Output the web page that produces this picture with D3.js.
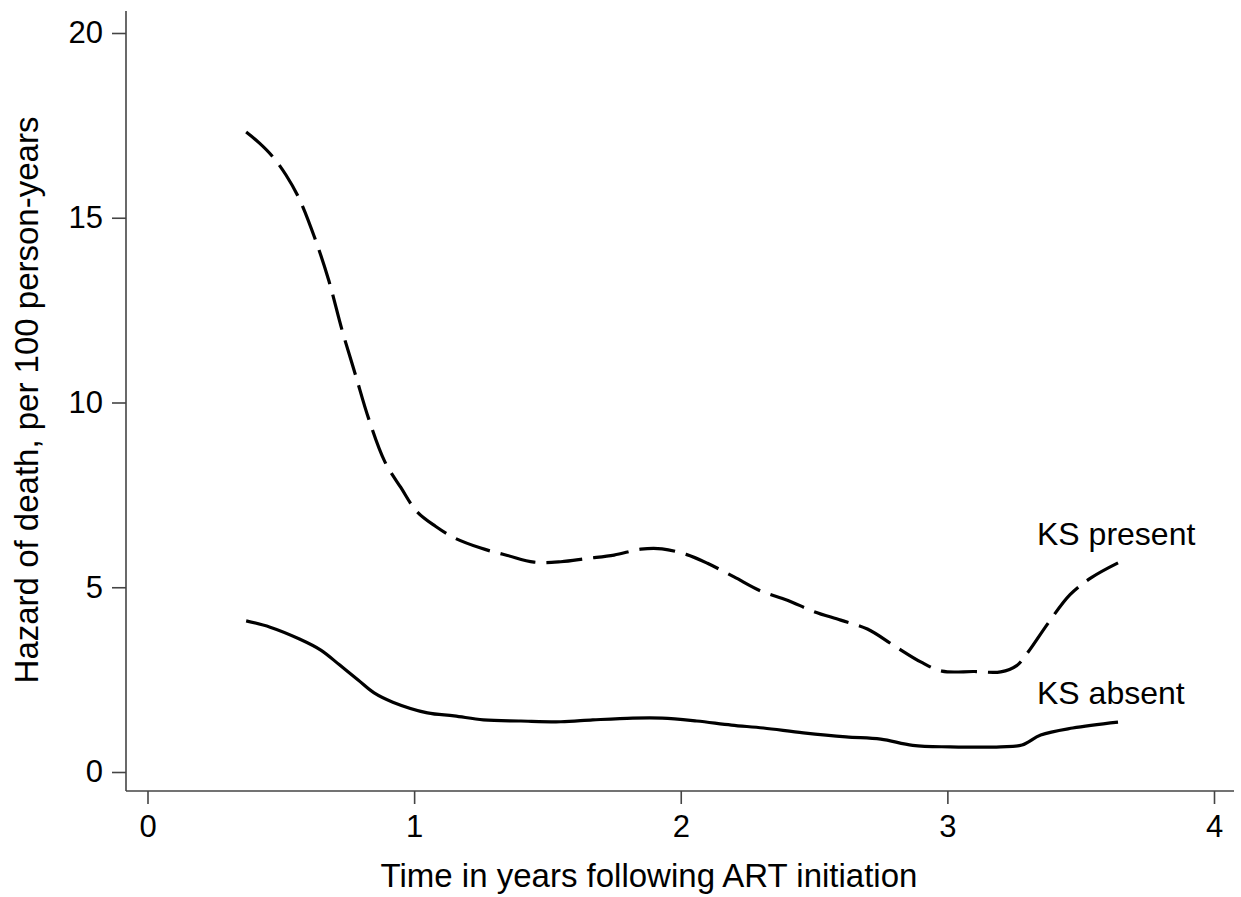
<!DOCTYPE html>
<html>
<head>
<meta charset="utf-8">
<script src="https://cdn.jsdelivr.net/npm/d3@7"></script>
<style>
  html, body { margin: 0; padding: 0; background: #fff; }
  svg { display: block; font-family: "Liberation Sans", Arial, sans-serif; }
</style>
</head>
<body>
<svg id="chart" width="1241" height="897"></svg>
<script>
// Smoothed hazard of death (per 100 person-years) by time since ART start
const xTicks = [0, 1, 2, 3, 4];
const yTicks = [0, 5, 10, 15, 20];

const ksPresentTime = [0.37, 0.42, 0.47, 0.52, 0.57, 0.63, 0.68, 0.73, 0.78, 0.83, 0.89, 0.95,
  1.01, 1.08, 1.15, 1.25, 1.35, 1.45, 1.55, 1.65, 1.75, 1.85, 1.93, 2.02, 2.10, 2.20, 2.30,
  2.40, 2.50, 2.60, 2.70, 2.80, 2.90, 2.98, 3.10, 3.20, 3.26, 3.30, 3.38, 3.46, 3.54, 3.64];
const ksPresentHazard = [17.32, 17.02, 16.65, 16.15, 15.5, 14.4, 13.3, 11.95, 10.75, 9.55, 8.4, 7.7,
  7.05, 6.65, 6.34, 6.06, 5.86, 5.68, 5.69, 5.78, 5.87, 6.03, 6.04, 5.89, 5.65, 5.28, 4.9,
  4.65, 4.34, 4.11, 3.87, 3.42, 2.98, 2.73, 2.72, 2.71, 2.88, 3.22, 4.05, 4.8, 5.26, 5.66];

const ksAbsentTime = [0.37, 0.46, 0.57, 0.65, 0.72, 0.79, 0.85, 0.92, 1.05, 1.15, 1.26, 1.40,
  1.55, 1.67, 1.82, 1.93, 2.06, 2.19, 2.31, 2.46, 2.62, 2.75, 2.87, 3.01, 3.20, 3.28, 3.35, 3.47, 3.64];
const ksAbsentHazard = [4.09, 3.92, 3.60, 3.30, 2.90, 2.49, 2.14, 1.89, 1.60, 1.52, 1.41, 1.38,
  1.36, 1.41, 1.46, 1.46, 1.38, 1.27, 1.19, 1.06, 0.95, 0.89, 0.72, 0.68, 0.68, 0.73, 1.00, 1.19, 1.35];

const seriesLabels = ["KS present", "KS absent"];

const svg = d3.select("#chart");
const axisColor = "#444";

const x = d3.scaleLinear().domain([0, 4]).range([147.5, 1214]);
const y = d3.scaleLinear().domain([0, 20]).range([772, 33]);

// Axis frame lines (left and bottom)
const axisLeftX = 126, axisBottomY = 791;
svg.append("line")
  .attr("x1", axisLeftX).attr("x2", axisLeftX)
  .attr("y1", 11).attr("y2", axisBottomY)
  .attr("stroke", axisColor).attr("stroke-width", 1.6);
svg.append("line")
  .attr("x1", axisLeftX).attr("x2", 1234)
  .attr("y1", axisBottomY).attr("y2", axisBottomY)
  .attr("stroke", axisColor).attr("stroke-width", 1.6);

// Y axis ticks and labels
const yAxis = d3.axisLeft(y).tickValues(yTicks).tickSize(14).tickPadding(9).tickFormat(d3.format("d"));
const gy = svg.append("g").attr("transform", `translate(${axisLeftX},0)`).call(yAxis);
gy.select(".domain").remove();
gy.selectAll(".tick line").attr("stroke", axisColor).attr("stroke-width", 1.6);
gy.selectAll(".tick text").attr("fill", "#000").attr("font-size", 31)
  .attr("font-family", "Liberation Sans, Arial, sans-serif");

// X axis ticks and labels
const xAxis = d3.axisBottom(x).tickValues(xTicks).tickSize(13).tickPadding(11).tickFormat(d3.format("d"));
const gx = svg.append("g").attr("transform", `translate(0,${axisBottomY})`).call(xAxis);
gx.select(".domain").remove();
gx.selectAll(".tick line").attr("stroke", axisColor).attr("stroke-width", 1.6);
gx.selectAll(".tick text").attr("fill", "#000").attr("font-size", 31)
  .attr("font-family", "Liberation Sans, Arial, sans-serif");

// Axis titles
svg.append("text")
  .attr("x", 649).attr("y", 887)
  .attr("text-anchor", "middle")
  .attr("font-size", 33)
  .text("Time in years following ART initiation");

svg.append("text")
  .attr("transform", "translate(38,400) rotate(-90)")
  .attr("text-anchor", "middle")
  .attr("font-size", 33)
  .text("Hazard of death, per 100 person-years");

// Hazard curves
const line = d3.line()
  .x(d => x(d[0]))
  .y(d => y(d[1]))
  .curve(d3.curveCatmullRom.alpha(0.5));

const presentPts = d3.zip(ksPresentTime, ksPresentHazard);
const absentPts = d3.zip(ksAbsentTime, ksAbsentHazard);

svg.append("path")
  .datum(presentPts)
  .attr("d", line)
  .attr("fill", "none")
  .attr("stroke", "#000")
  .attr("stroke-width", 3.2)
  .attr("stroke-dasharray", "36,11");

svg.append("path")
  .datum(absentPts)
  .attr("d", line)
  .attr("fill", "none")
  .attr("stroke", "#000")
  .attr("stroke-width", 3.2);

// Series labels near line ends
svg.append("text")
  .attr("x", 1037).attr("y", 545)
  .attr("font-size", 32)
  .text(seriesLabels[0]);
svg.append("text")
  .attr("x", 1037).attr("y", 704)
  .attr("font-size", 32)
  .text(seriesLabels[1]);
</script>
</body>
</html>
